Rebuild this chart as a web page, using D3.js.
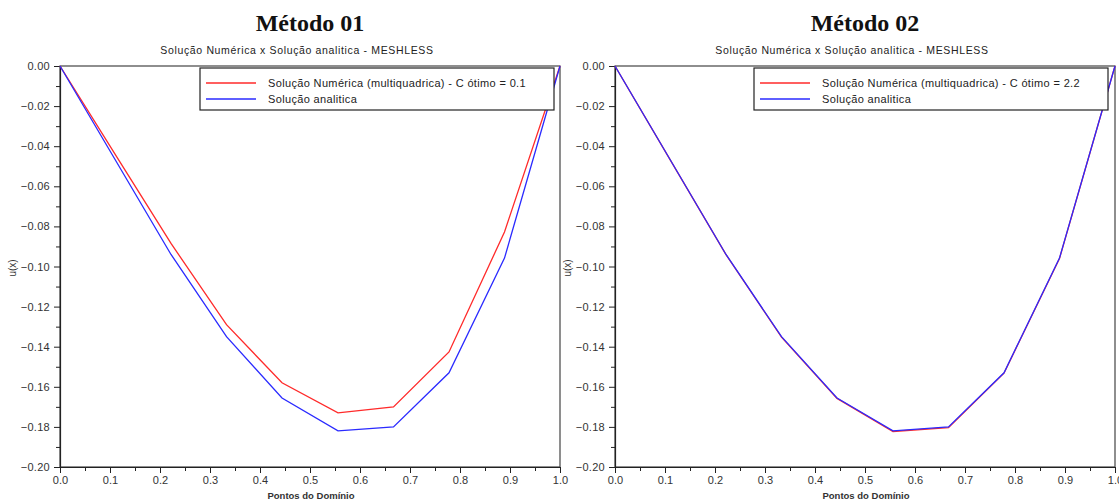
<!DOCTYPE html>
<html>
<head>
<meta charset="utf-8">
<script src="https://cdn.jsdelivr.net/npm/d3@7"></script>
<style>
  body { margin: 0; background: #fff; }
  text { font-family: "Liberation Sans", Arial, sans-serif; }
</style>
</head>
<body>
<script>
// points of the domain
var pontos = [0, 0.111, 0.222, 0.333, 0.444, 0.556, 0.667, 0.778, 0.889, 1.0];
// analytic solution (blue)
var analitica = [0, -0.047, -0.094, -0.135, -0.1656, -0.182, -0.180, -0.153, -0.0958, 0];
// numeric solution, method 01 (C = 0.1)
var numerica01 = [0, -0.0443, -0.0885, -0.129, -0.158, -0.173, -0.170, -0.1426, -0.0828, 0];
// numeric solution, method 02 (C = 2.2)
var numerica02 = [0, -0.0471, -0.0941, -0.1352, -0.1658, -0.1823, -0.1804, -0.1532, -0.0960, 0];

var yTicks = [0, -0.02, -0.04, -0.06, -0.08, -0.10, -0.12, -0.14, -0.16, -0.18, -0.20];
var yMinor = [-0.01, -0.03, -0.05, -0.07, -0.09, -0.11, -0.13, -0.15, -0.17, -0.19];
var xTicks = [0, 0.1, 0.2, 0.3, 0.4, 0.5, 0.6, 0.7, 0.8, 0.9, 1.0];
var xMinor = [0.05, 0.15, 0.25, 0.35, 0.45, 0.55, 0.65, 0.75, 0.85, 0.95];

var titulos = ["Método 01", "Método 02"];
var subtitulo = "Solução Numérica x Solução analitica - MESHLESS";
var legendas01 = ["Solução Numérica (multiquadrica) - C ótimo = 0.1", "Solução analitica"];
var legendas02 = ["Solução Numérica (multiquadrica) - C ótimo = 2.2", "Solução analitica"];

var svgWidth = 1119;
var svgHeight = 502;

var svg = d3.select("body")
  .append("svg")
  .attr("width", svgWidth)
  .attr("height", svgHeight);

var plotW = 500;
var plotH = 401;

function drawPanel(left, titulo, numerica, legendas, legendX) {
  var g = svg.append("g")
    .attr("transform", `translate(${left}, 66)`);

  var x = d3.scaleLinear().domain([0, 1]).range([0, plotW]);
  var y = d3.scaleLinear().domain([-0.20, 0]).range([plotH, 0]);

  // frame
  g.append("rect")
    .attr("x", 0).attr("y", 0)
    .attr("width", plotW).attr("height", plotH)
    .attr("fill", "none")
    .attr("stroke", "#444")
    .attr("stroke-width", 1.2);

  // y axis
  var yAxis = g.append("g")
    .call(d3.axisLeft(y).tickValues(yTicks).tickFormat(d3.format(".2f")).tickSize(6).tickSizeOuter(0));
  yAxis.selectAll("text").attr("font-size", "11px").attr("fill", "#333").attr("dx", "-1").style("letter-spacing", "0.3px");
  g.append("g")
    .call(d3.axisLeft(y).tickValues(yMinor).tickFormat("").tickSize(4).tickSizeOuter(0))
    .select(".domain").remove();

  // x axis
  var xAxis = g.append("g")
    .attr("transform", `translate(0, ${plotH})`)
    .call(d3.axisBottom(x).tickValues(xTicks).tickFormat(d3.format(".1f")).tickSize(6).tickSizeOuter(0));
  xAxis.selectAll("text").attr("font-size", "11px").attr("fill", "#333");
  g.append("g")
    .attr("transform", `translate(0, ${plotH})`)
    .call(d3.axisBottom(x).tickValues(xMinor).tickFormat("").tickSize(4).tickSizeOuter(0))
    .select(".domain").remove();

  g.selectAll(".domain").attr("stroke", "#222").attr("stroke-width", 1.2);
  g.selectAll(".tick line").attr("stroke", "#222");

  // lines
  var line = d3.line()
    .x((d, i) => x(pontos[i]))
    .y(d => y(d));

  g.append("path")
    .datum(numerica)
    .attr("d", line)
    .attr("fill", "none")
    .attr("stroke", "#ff2a2a")
    .attr("stroke-width", 1.3);

  g.append("path")
    .datum(analitica)
    .attr("d", line)
    .attr("fill", "none")
    .attr("stroke", "#2a2aff")
    .attr("stroke-width", 1.3);

  // titles
  svg.append("text")
    .attr("x", left + 250)
    .attr("y", 31)
    .attr("text-anchor", "middle")
    .style("font-family", "'Liberation Serif', 'Times New Roman', serif")
    .attr("font-weight", "bold")
    .attr("font-size", "24px")
    .attr("fill", "#111")
    .text(titulo);

  svg.append("text")
    .attr("x", left + 237)
    .attr("y", 54)
    .attr("text-anchor", "middle")
    .attr("font-size", "10.5px")
    .style("letter-spacing", "0.65px")
    .attr("fill", "#222")
    .text(subtitulo);

  // axis labels
  svg.append("text")
    .attr("x", left + 251)
    .attr("y", 499)
    .attr("text-anchor", "middle")
    .attr("font-size", "9.5px")
    .attr("font-weight", "bold")
    .attr("fill", "#333")
    .text("Pontos do Domínio");

  svg.append("text")
    .attr("transform", `translate(${left - 44}, 268) rotate(-90)`)
    .attr("text-anchor", "middle")
    .attr("font-size", "10px")
    .attr("fill", "#333")
    .text("u(x)");

  // legend
  var leg = svg.append("g")
    .attr("transform", `translate(${legendX}, 68)`);
  leg.append("rect")
    .attr("width", 354).attr("height", 42)
    .attr("fill", "#fff")
    .attr("stroke", "#222")
    .attr("stroke-width", 1.2);
  var cores = ["#ff2a2a", "#2a2aff"];
  legendas.forEach(function(t, i) {
    leg.append("line")
      .attr("x1", 6).attr("x2", 56)
      .attr("y1", 15 + i * 16).attr("y2", 15 + i * 16)
      .attr("stroke", cores[i])
      .attr("stroke-width", 1.3);
    leg.append("text")
      .attr("x", 68)
      .attr("y", 19 + i * 16)
      .attr("font-size", "11px")
      .style("letter-spacing", "0.35px")
      .attr("fill", "#222")
      .text(t);
  });
}

drawPanel(60, titulos[0], numerica01, legendas01, 200);
drawPanel(615, titulos[1], numerica02, legendas02, 754);
</script>
</body>
</html>
